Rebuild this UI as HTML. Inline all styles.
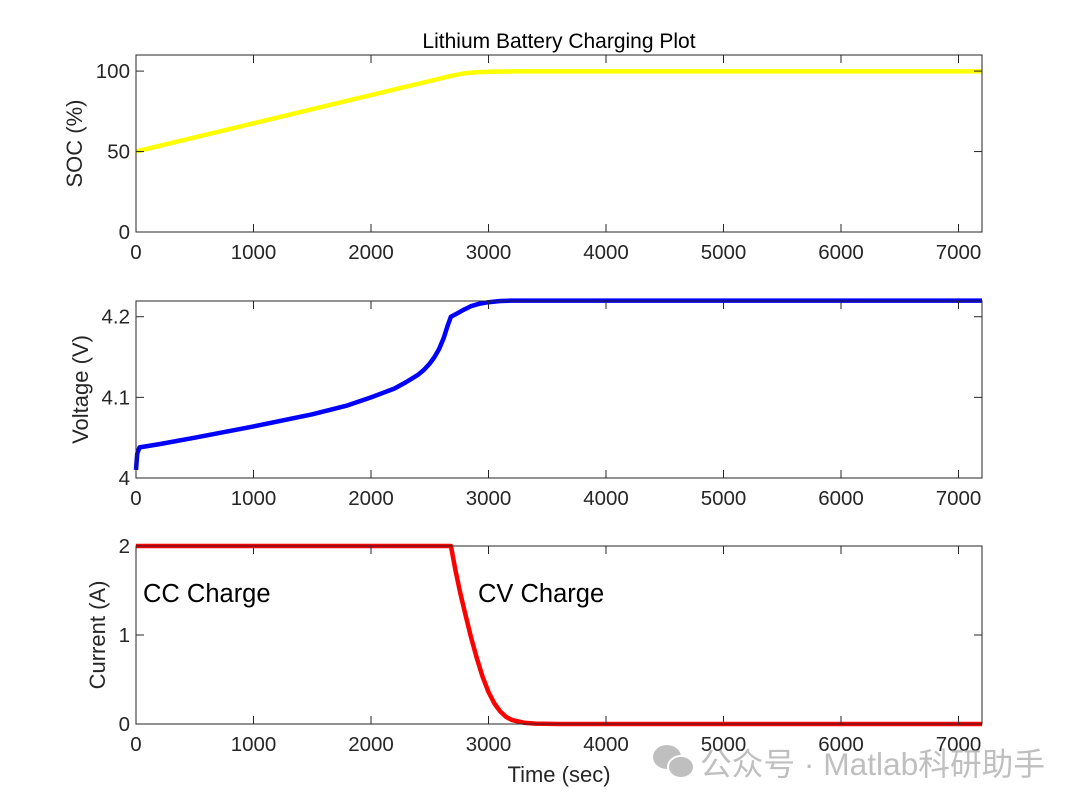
<!DOCTYPE html>
<html><head><meta charset="utf-8"><style>
body{margin:0;background:#fff;}
svg text{font-family:"Liberation Sans","Noto Sans CJK SC",sans-serif;}
</style></head><body>
<svg id="chart" width="1080" height="805" xmlns="http://www.w3.org/2000/svg">
<rect width="1080" height="805" fill="#fff"/>
<text x="559" y="48" font-size="21" text-anchor="middle" fill="#000">Lithium Battery Charging Plot</text>
<g id="plots"></g>
<text x="559" y="782" font-size="22" text-anchor="middle" fill="#262626">Time (sec)</text>
<text x="143" y="602" font-size="25.5" fill="#000">CC Charge</text>
<text x="478" y="602" font-size="25.5" fill="#000">CV Charge</text>
<g opacity="0.75">
<ellipse cx="667" cy="757" rx="14" ry="12" fill="#aaa"/>
<ellipse cx="681" cy="767" rx="13" ry="11" fill="#aaa" stroke="#fff" stroke-width="2"/>
<text x="700" y="775" font-size="31.5" fill="#aaa" textLength="345" lengthAdjust="spacingAndGlyphs">公众号 · Matlab科研助手</text>
</g>
</svg>
<script>
const timeSoc=[0,2680,2750,2800,2900,3000,3200,7200];
const socVals=[50,97,98,98.7,99.3,99.6,99.8,99.8];
const timeV=[0,10,30,200,500,1000,1500,1800,2000,2200,2300,2400,2450,2500,2540,2580,2620,2650,2680,2720,2780,2850,2920,3000,3100,3200,3500,7200];
const voltVals=[4.01,4.03,4.038,4.042,4.05,4.064,4.079,4.09,4.1,4.111,4.119,4.128,4.134,4.142,4.15,4.16,4.174,4.188,4.2,4.203,4.208,4.213,4.216,4.218,4.2195,4.22,4.22,4.22];
const timeI=[0,2680,2720,2760,2800,2850,2900,2950,3000,3050,3100,3150,3200,3300,3400,3600,7200];
const currVals=[2,2,1.72,1.47,1.25,0.98,0.74,0.53,0.36,0.23,0.14,0.08,0.045,0.015,0.005,0,0];
const xTicks=[0,1000,2000,3000,4000,5000,6000,7000];
const panels=[
 {name:'soc',top:55,bot:232,ymin:0,ymax:110,yt:[0,50,100],yl:['0','50','100'],lab:'SOC (%)',xs:timeSoc,ys:socVals,c:'#ffff00'},
 {name:'voltage',top:301,bot:478,ymin:4,ymax:4.2195,yt:[4,4.1,4.2],yl:['4','4.1','4.2'],lab:'Voltage (V)',xs:timeV,ys:voltVals,c:'#0000ff'},
 {name:'current',top:546,bot:724,ymin:0,ymax:2,yt:[0,1,2],yl:['0','1','2'],lab:'Current (A)',xs:timeI,ys:currVals,c:'#ff0000'}
];
const L=136,R=982,NS='http://www.w3.org/2000/svg';
const g=document.getElementById('plots');
function mk(t,a){const e=document.createElementNS(NS,t);for(const k in a)e.setAttribute(k,a[k]);return e;}
const X=v=>L+(v/7200)*(R-L);
panels.forEach(p=>{
 const Y=v=>p.bot-(v-p.ymin)/(p.ymax-p.ymin)*(p.bot-p.top);
 const pts=p.xs.map((x,i)=>X(x).toFixed(1)+','+Y(p.ys[i]).toFixed(1)).join(' ');
 const ln=mk('polyline',{points:pts,fill:'none',stroke:p.c,'stroke-width':4.5,'stroke-linejoin':'round'});
 
 
 g.appendChild(ln);
 const box=mk('rect',{x:L,y:p.top,width:R-L,height:p.bot-p.top,fill:'none',stroke:'#262626','stroke-width':1});
 
 
 g.appendChild(box);
 xTicks.forEach(t=>{
  g.appendChild(mk('line',{x1:X(t),x2:X(t),y1:p.bot,y2:p.bot-8,stroke:'#262626'}));
  g.appendChild(mk('line',{x1:X(t),x2:X(t),y1:p.top,y2:p.top+8,stroke:'#262626'}));
  const tx=mk('text',{x:X(t),y:p.bot+27,'font-size':20.5,'text-anchor':'middle',fill:'#262626'});
  tx.textContent=t;
  
  
  g.appendChild(tx);
 });
 p.yt.forEach((t,i)=>{
  g.appendChild(mk('line',{x1:L,x2:L+8,y1:Y(t),y2:Y(t),stroke:'#262626'}));
  g.appendChild(mk('line',{x1:R,x2:R-8,y1:Y(t),y2:Y(t),stroke:'#262626'}));
  const tx=mk('text',{x:L-6,y:Y(t)+7,'font-size':20.5,'text-anchor':'end',fill:'#262626'});
  tx.textContent=p.yl[i];
  
  
  g.appendChild(tx);
 });
 const cy=(p.top+p.bot)/2;
 const yl=mk('text',{x:0,y:0,'font-size':22,'text-anchor':'middle',fill:'#262626',transform:`translate(${p.name==='soc'?82:p.name==='voltage'?88:105},${cy}) rotate(-90)`});
 yl.textContent=p.lab;
 
 
 g.appendChild(yl);
});
</script>
</body></html>
